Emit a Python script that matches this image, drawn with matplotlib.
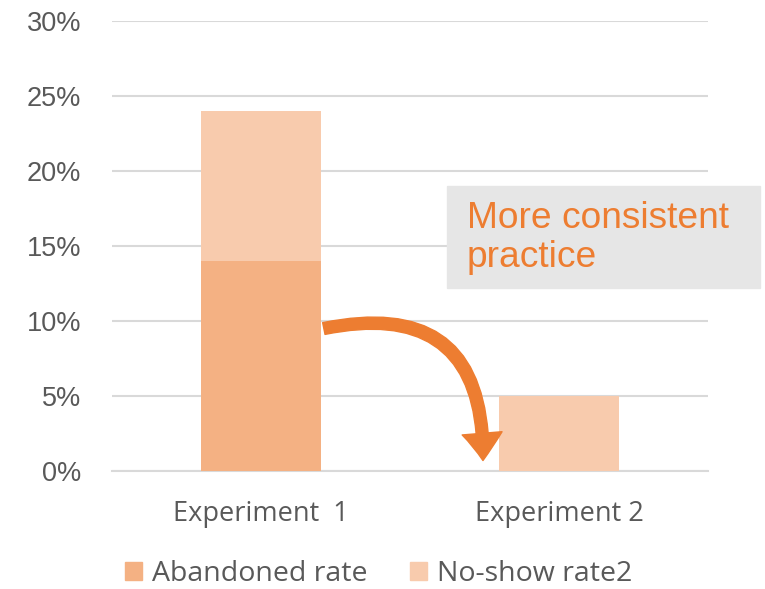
import numpy as np
import matplotlib.pyplot as plt
from matplotlib.patches import Patch
from matplotlib.ticker import MultipleLocator, FuncFormatter

# data (percent)
experiments = ["Experiment  1", "Experiment 2"]
abandoned_rate = [14, 0]
no_show_rate = [10, 5]

c_abandoned = "#F4B183"
c_noshow = "#F8CBAD"
c_text = "#595959"
c_orange = "#ED7D31"

plt.rcParams["font.family"] = ["Open Sans", "DejaVu Sans"]

fig = plt.figure(figsize=(7.65, 5.89), dpi=100)
ax = fig.add_axes([0.1464, 0.2003, 0.779, 0.764])

x = np.arange(len(experiments))
ax.bar(x, abandoned_rate, width=0.4, color=c_abandoned, zorder=3)
ax.bar(x, no_show_rate, width=0.4, bottom=abandoned_rate, color=c_noshow, zorder=3)

ax.set_xlim(-0.5, 1.5)
ax.set_ylim(0, 30)
ax.yaxis.set_major_locator(MultipleLocator(5))
ax.yaxis.set_major_formatter(FuncFormatter(lambda v, p: f"{v:.0f}%"))
ax.set_xticks(x)
ax.set_xticklabels(experiments)
ax.grid(axis="y", color="#d9d9d9", linewidth=1.5, zorder=0)
for s in ["left", "right", "top"]:
    ax.spines[s].set_visible(False)
ax.spines["bottom"].set_color("#d9d9d9")
ax.spines["bottom"].set_linewidth(1.5)
ax.tick_params(axis="both", length=0, colors=c_text)
ax.tick_params(axis="y", pad=22, labelsize=19.5)
ax.tick_params(axis="x", pad=21, labelsize=19.5)
for lab in ax.get_yticklabels():
    lab.set_family(["Liberation Sans", "DejaVu Sans"])

# curved arrow from exp 1 down to exp 2
ax.annotate("", xy=(0.745, 0.7), xytext=(0.211, 9.5),
            arrowprops=dict(arrowstyle="simple,head_length=0.68,head_width=1.0,tail_width=0.3",
                            connectionstyle="arc3,rad=-0.62", color=c_orange,
                            mutation_scale=28.8, shrinkA=0, shrinkB=0),
            zorder=5, annotation_clip=False)

# callout box
fig.patches.append(plt.Rectangle((447 / 765, 1 - 288 / 589), (760 - 447) / 765, (288 - 186) / 589,
                                 transform=fig.transFigure, color="#E6E6E6", zorder=1))
fig.text(467 / 765, 1 - 238 / 589, "More consistent\npractice", color=c_orange, fontsize=26.7,
         family=["Liberation Sans", "DejaVu Sans"], va="center", ha="left", linespacing=1.15)

handles = [Patch(color=c_abandoned, label="Abandoned rate"),
           Patch(color=c_noshow, label="No-show rate2")]
fig.legend(handles=handles, loc="center", bbox_to_anchor=(0.495, 0.026), ncol=2, frameon=False,
           fontsize=20.5, labelcolor=c_text, handlelength=0.6, handleheight=0.6,
           handletextpad=0.35, columnspacing=1.5, borderpad=0.0, borderaxespad=0.0)

fig.savefig("out.png", dpi=100)
